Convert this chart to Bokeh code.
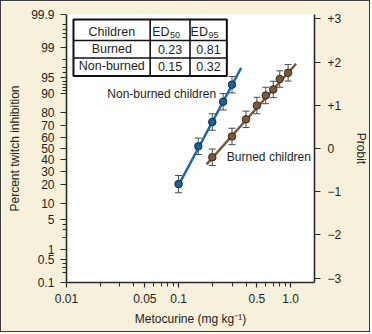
from statistics import NormalDist
from math import log10
from bokeh.plotting import figure
from bokeh.models import (FixedTicker, CustomJSTickFormatter, LinearAxis, Range1d,
                          Label, Whisker, TeeHead, ColumnDataSource)
from bokeh.embed import file_html
from bokeh.resources import INLINE

# ---------------- data ----------------
nb_dose = [0.1, 0.15, 0.2, 0.25, 0.3]
nb_pct = [20.5, 52, 73, 86, 93]
nb_err = [0.2, 0.19, 0.19, 0.19, 0.19]          # half-width of error bar, probit units

b_dose = [0.2, 0.3, 0.4, 0.5, 0.6, 0.7, 0.8, 0.95]
b_pct = [42, 61, 75, 84, 89, 91.4, 94.6, 96]
b_err = [0.19, 0.19, 0.19, 0.19, 0.19, 0.19, 0.19, 0.19]

nb_fit_dose = [0.1, 0.362]
nb_fit_pct = [19.8, 96.9]
b_fit_dose = [0.178, 1.12]
b_fit_pct = [35.7, 97.5]

table_head = ["Children", "ED", "ED"]
table_sub = ["", "50", "95"]
table_groups = ["Burned", "Non-burned"]
table_ed50 = ["0.23", "0.15"]
table_ed95 = ["0.81", "0.32"]

pct_ticks = [99.9, 99, 95, 90, 80, 70, 60, 50, 40, 30, 20, 10, 5, 1, 0.5, 0.1]
pct_labels = ["99.9", "99", "95", "90", "80", "70", "60", "50", "40", "30", "20",
              "10", "5", "1", "0.5", "0.1"]
pct_minor = [99.8, 99.7, 99.6, 99.5, 98, 97, 96, 94, 93, 92, 91, 4, 3, 2, 0.4, 0.3, 0.2]
probit_ticks = [-3, -2, -1, 0, 1, 2, 3]
probit_labels = ["\u22123", "\u22122", "\u22121", "0", "+1", "+2", "+3"]
dose_ticks = [0.01, 0.05, 0.1, 0.5, 1.0]
dose_labels = ["0.01", "0.05", "0.1", "0.5", "1.0"]
dose_minor = [0.02, 0.03, 0.04, 0.06, 0.07, 0.08, 0.09, 0.2, 0.3, 0.4, 0.6, 0.7, 0.8, 0.9]

# ---------------- helpers ----------------
nd = NormalDist()


def pr(p):
    return nd.inv_cdf(p / 100.0)


FONT = "Liberation Sans"
TXT = "#231f20"
BG = "#f7f0da"
BLUE_LINE = "#1a67a3"
BLUE_FILL = "#1d5f98"
BLUE_EDGE = "#0b2c48"
BROWN_LINE = "#7a5533"
BROWN_FILL = "#7b5a3a"
BROWN_EDGE = "#392817"

X0, X1 = 0.01, 1.634
Y0, Y1 = -3.1, 3.1
# frame in page pixels (page has 1px border)
FL, FT, FW, FH = 66, 14, 249, 268


def ix(px):
    return 10 ** (log10(X0) + (px - FL) / FW * (log10(X1) - log10(X0)))


def iy(py):
    return Y1 - (py - FT) / FH * (Y1 - Y0)


p = figure(width=370, height=332, x_axis_type="log",
           x_range=Range1d(X0, X1), y_range=Range1d(Y0, Y1),
           output_backend="svg", toolbar_location=None, title=None,
           min_border_left=FL - 1, min_border_top=FT - 1,
           min_border_right=370 - (FL - 1) - FW, min_border_bottom=332 - (FT - 1) - FH)
p.styles = {"border": "1px solid #3a3a3a"}
p.background_fill_color = "white"
p.border_fill_color = BG
p.outline_line_color = None
p.xgrid.visible = False
p.ygrid.visible = False


def fmt(vals, labs):
    return CustomJSTickFormatter(args=dict(v=list(vals), l=list(labs)), code="""
        for (let i = 0; i < v.length; i++) {
            if (Math.abs(tick - v[i]) < 1e-6 * Math.max(1, Math.abs(v[i]))) return l[i];
        }
        return '';
    """)


def style_axis(ax):
    ax.axis_line_color = "#2b2b2b"
    ax.axis_line_width = 1.6
    ax.major_tick_line_color = "#2b2b2b"
    ax.major_tick_line_width = 1.2
    ax.minor_tick_line_color = "#2b2b2b"
    ax.minor_tick_line_width = 1
    ax.major_tick_in = 0
    ax.major_tick_out = 6
    ax.minor_tick_in = 0
    ax.minor_tick_out = 4
    ax.major_label_text_font = FONT
    ax.major_label_text_font_size = "12px"
    ax.major_label_text_color = TXT
    ax.axis_label_text_font = FONT
    ax.axis_label_text_font_size = "12px"
    ax.axis_label_text_font_style = "normal"
    ax.axis_label_text_color = TXT


# left (percent) axis
yax = p.yaxis[0]
yax.ticker = FixedTicker(ticks=[pr(v) for v in pct_ticks], minor_ticks=[pr(v) for v in pct_minor])
yax.formatter = fmt([pr(v) for v in pct_ticks], pct_labels)
yax.axis_label = "Percent twitch inhibition"
style_axis(yax)
yax.major_label_standoff = 6
yax.axis_label_standoff = 6

# bottom (dose) axis
xax = p.xaxis[0]
xax.ticker = FixedTicker(ticks=dose_ticks, minor_ticks=dose_minor)
xax.formatter = fmt(dose_ticks, dose_labels)
xax.axis_label = "Metocurine (mg kg\u207b\u00b9)"
style_axis(xax)
xax.major_tick_out = 5
xax.major_label_standoff = 6
xax.axis_label_standoff = 6

# right (probit) axis
rax = LinearAxis(ticker=FixedTicker(ticks=probit_ticks), formatter=fmt(probit_ticks, probit_labels),
                 axis_label="Probit")
style_axis(rax)
rax.minor_tick_line_color = None
rax.major_label_standoff = 7
rax.axis_label_standoff = 10
p.add_layout(rax, "right")

# ---------------- table ----------------
t_left, t_right, t_top, t_bot = 73, 227, 19, 75.5
col_x = [150, 190]
row_y = [40, 57.5]
p.quad(left=[ix(t_left)], right=[ix(t_right)], top=[iy(t_top)], bottom=[iy(t_bot)],
       fill_color="white", line_color="#111111", line_width=2)
p.segment(x0=[ix(c) for c in col_x], x1=[ix(c) for c in col_x],
          y0=[iy(t_top)] * 2, y1=[iy(t_bot)] * 2, line_color="#111111", line_width=1.6)
p.segment(x0=[ix(t_left)] * 2, x1=[ix(t_right)] * 2,
          y0=[iy(r) for r in row_y], y1=[iy(r) for r in row_y], line_color="#111111", line_width=1.6)

col_c = [(t_left + col_x[0]) / 2, (col_x[0] + col_x[1]) / 2, (col_x[1] + t_right) / 2]
row_c = [31, 48.5, 65.5]


def lab(text, px, py, size="12px", align="center"):
    p.add_layout(Label(x=ix(px), y=iy(py), text=text, text_font=FONT, text_font_size=size,
                       text_color=TXT, text_align=align, text_baseline="middle"))


lab(table_head[0], col_c[0], row_c[0], size="12.5px")
for k in (1, 2):
    lab(table_head[k], col_c[k] - 0.5, row_c[0], size="12.5px", align="right")
    lab(table_sub[k], col_c[k], row_c[0] + 3.5, size="9px", align="left")
for i in range(2):
    lab(table_groups[i], col_c[0], row_c[i + 1], size="12.5px")
    lab(table_ed50[i], col_c[1], row_c[i + 1], size="12.5px")
    lab(table_ed95[i], col_c[2], row_c[i + 1], size="12.5px")

# ---------------- series ----------------
def series(dose, pct, err, fit_d, fit_p, lc, fc, ec):
    yv = [pr(v) for v in pct]
    src = ColumnDataSource(dict(x=dose, y=yv, lo=[a - e for a, e in zip(yv, err)],
                                hi=[a + e for a, e in zip(yv, err)]))
    w = Whisker(source=src, base="x", lower="lo", upper="hi", dimension="height",
                line_color="#4a4a4a", line_width=1,
                lower_head=TeeHead(size=7, line_color="#4a4a4a", line_width=1),
                upper_head=TeeHead(size=7, line_color="#4a4a4a", line_width=1),
                level="underlay")
    p.add_layout(w)
    p.line(fit_d, [pr(v) for v in fit_p], line_color=lc, line_width=2.4)
    p.scatter("x", "y", source=src, size=7.5, fill_color=fc, line_color=ec, line_width=1)


series(nb_dose, nb_pct, nb_err, nb_fit_dose, nb_fit_pct, BLUE_LINE, BLUE_FILL, BLUE_EDGE)
series(b_dose, b_pct, b_err, b_fit_dose, b_fit_pct, BROWN_LINE, BROWN_FILL, BROWN_EDGE)

lab("Non-burned children", 107, 93, size="12px", align="left")
lab("Burned children", 227, 156, size="12px", align="left")
lab("A", 9, 321, size="14px", align="left")

open("out.html", "w").write(file_html(p, INLINE))
